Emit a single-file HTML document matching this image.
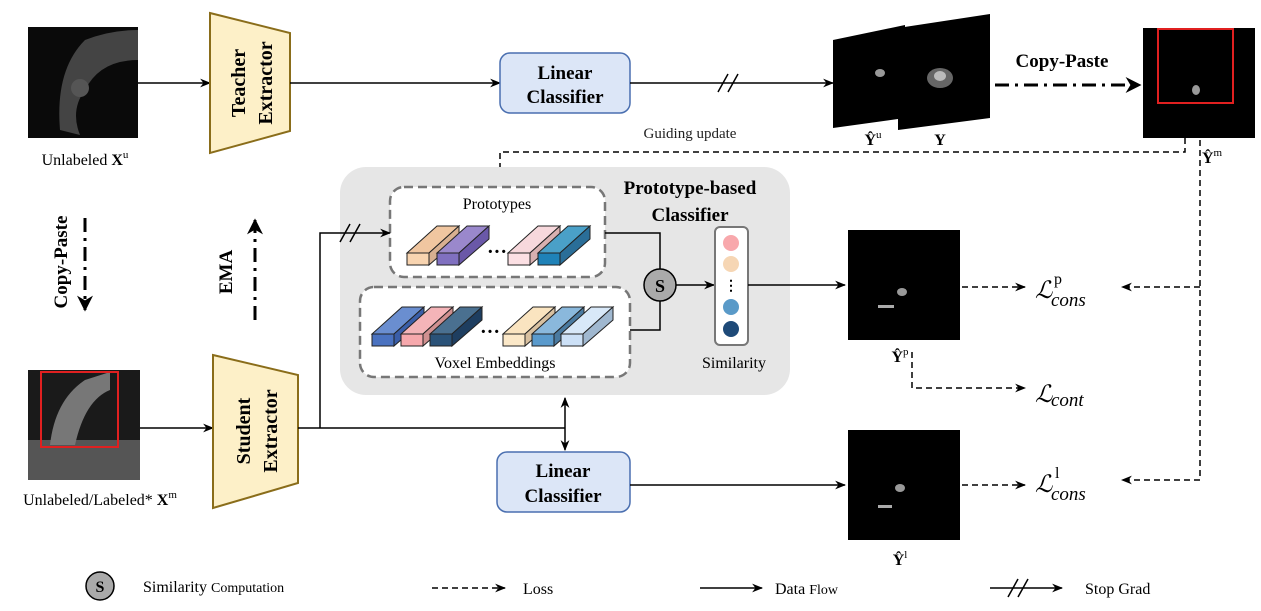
<!DOCTYPE html>
<html><head><style>body{margin:0;background:#fff}svg{display:block}text{font-family:"Liberation Serif",serif}</style></head><body>
<svg width="1261" height="611" viewBox="0 0 1261 611" xmlns="http://www.w3.org/2000/svg">
<defs>
<marker id="a" viewBox="0 0 10 10" refX="9" refY="5" markerWidth="11" markerHeight="11" orient="auto" markerUnits="userSpaceOnUse"><path d="M0,1 L10,5 L0,9 L3,5z" fill="#000"/></marker>
<marker id="b" viewBox="0 0 10 10" refX="9" refY="5" markerWidth="16" markerHeight="16" orient="auto" markerUnits="userSpaceOnUse"><path d="M0,0 L10,5 L0,10 L3,5z" fill="#000"/></marker>
<marker id="d" viewBox="0 0 10 10" refX="5" refY="5" markerWidth="8" markerHeight="8" orient="auto" markerUnits="userSpaceOnUse"><path d="M5,0 L10,5 L5,10 L0,5z" fill="#000"/></marker>
</defs>
<rect x="28" y="27" width="110" height="111" fill="#0a0a0a"/>
<path d="M60,130 Q55,70 85,40 Q110,30 138,30 L138,60 Q100,60 85,90 Q70,110 80,135z" fill="#444"/>
<circle cx="80" cy="88" r="9" fill="#555"/>
<text x="85" y="165" font-size="16" text-anchor="middle">Unlabeled <tspan font-weight="bold">X</tspan><tspan font-size="11" dy="-7">u</tspan></text>
<line x1="138" y1="83" x2="210" y2="83" stroke="#000" stroke-width="1.5" marker-end="url(#a)"/>
<polygon points="210,13 290,33 290,131 210,153" fill="#fdf0c8" stroke="#8a6d1a" stroke-width="2"/>
<text transform="translate(245,83) rotate(-90)" font-size="20" font-weight="bold" text-anchor="middle">Teacher</text>
<text transform="translate(272,83) rotate(-90)" font-size="20" font-weight="bold" text-anchor="middle">Extractor</text>
<line x1="290" y1="83" x2="500" y2="83" stroke="#000" stroke-width="1.5" marker-end="url(#a)"/>
<rect x="500" y="53" width="130" height="60" rx="10" fill="#dce6f7" stroke="#4a6fb0" stroke-width="1.5"/>
<text x="565" y="79" font-size="19" font-weight="bold" text-anchor="middle">Linear</text>
<text x="565" y="103" font-size="19" font-weight="bold" text-anchor="middle">Classifier</text>
<line x1="630" y1="83" x2="833" y2="83" stroke="#000" stroke-width="1.5" marker-end="url(#a)"/>
<line x1="718" y1="92" x2="728" y2="74" stroke="#000" stroke-width="1.5"/><line x1="728" y1="92" x2="738" y2="74" stroke="#000" stroke-width="1.5"/>
<polygon points="833,40 905,25 905,118 833,128" fill="#000"/>
<ellipse cx="880" cy="73" rx="5" ry="4" fill="#999"/>
<polygon points="898,28 990,14 990,118 898,130" fill="#000"/>
<ellipse cx="940" cy="78" rx="13" ry="10" fill="#666"/><ellipse cx="940" cy="76" rx="6" ry="5" fill="#bbb"/>
<text x="873" y="145" font-size="16" font-weight="bold" text-anchor="middle">Ŷ<tspan font-size="11" dy="-7" font-weight="normal">u</tspan></text>
<text x="940" y="145" font-size="16" font-weight="bold" text-anchor="middle">Y</text>
<text x="1062" y="67" font-size="19" font-weight="bold" text-anchor="middle">Copy-Paste</text>
<line x1="995" y1="85" x2="1140" y2="85" stroke="#000" stroke-width="3" stroke-dasharray="14,6,3,6" marker-end="url(#b)"/>
<rect x="1143" y="28" width="112" height="110" fill="#000"/>
<rect x="1158" y="29" width="75" height="74" fill="none" stroke="#e02020" stroke-width="2"/>
<ellipse cx="1196" cy="90" rx="4" ry="5" fill="#999"/>
<text x="1212" y="163" font-size="16" font-weight="bold" text-anchor="middle">Ŷ<tspan font-size="11" dy="-7" font-weight="normal">m</tspan></text>
<text x="690" y="138" font-size="15" text-anchor="middle" fill="#222">Guiding update</text>
<polyline points="1185,138 1185,152 500,152 500,185" fill="none" stroke="#000" stroke-width="1.5" stroke-dasharray="6,4" marker-end="url(#d)"/>
<line x1="1200" y1="140" x2="1200" y2="480" stroke="#000" stroke-width="1.5" stroke-dasharray="6,4"/>
<line x1="1200" y1="287" x2="1122" y2="287" stroke="#000" stroke-width="1.5" stroke-dasharray="6,4" marker-end="url(#a)"/>
<line x1="1200" y1="480" x2="1122" y2="480" stroke="#000" stroke-width="1.5" stroke-dasharray="6,4" marker-end="url(#a)"/>
<rect x="340" y="167" width="450" height="228" rx="26" fill="#e6e6e6"/>
<text x="690" y="194" font-size="19" font-weight="bold" text-anchor="middle">Prototype-based</text>
<text x="690" y="221" font-size="19" font-weight="bold" text-anchor="middle">Classifier</text>
<rect x="390" y="187" width="215" height="90" rx="14" fill="#fff" stroke="#777" stroke-width="2.5" stroke-dasharray="9,5"/>
<text x="497" y="209" font-size="16" text-anchor="middle">Prototypes</text>
<rect x="360" y="287" width="270" height="90" rx="14" fill="#fff" stroke="#777" stroke-width="2.5" stroke-dasharray="9,5"/>
<text x="495" y="368" font-size="16" text-anchor="middle">Voxel Embeddings</text>
<g stroke="#222" stroke-width="1">
<g><polygon points="407,253 437,226 459,226 429,253" fill="#f0c6a0"/><polygon points="429,253 459,226 459,239 429,265" fill="#d8b090"/><rect x="407" y="253" width="22" height="12" fill="#f8d4b0"/></g>
<g><polygon points="437,253 467,226 489,226 459,253" fill="#9a88cc"/><polygon points="459,253 489,226 489,239 459,265" fill="#6a58a8"/><rect x="437" y="253" width="22" height="12" fill="#8070c0"/></g>
<g><polygon points="508,253 538,226 560,226 530,253" fill="#f7d8dc"/><polygon points="530,253 560,226 560,239 530,265" fill="#d8b0b0"/><rect x="508" y="253" width="22" height="12" fill="#fce0e4"/></g>
<g><polygon points="538,253 568,226 590,226 560,253" fill="#4aa0c8"/><polygon points="560,253 590,226 590,239 560,265" fill="#2a6e98"/><rect x="538" y="253" width="22" height="12" fill="#1f82b8"/></g>
<g><polygon points="372,334 402,307 424,307 394,334" fill="#6a8ed0"/><polygon points="394,334 424,307 424,320 394,346" fill="#3a5ea8"/><rect x="372" y="334" width="22" height="12" fill="#4a72c0"/></g>
<g><polygon points="401,334 431,307 453,307 423,334" fill="#f4b4b8"/><polygon points="423,334 453,307 453,320 423,346" fill="#d09090"/><rect x="401" y="334" width="22" height="12" fill="#f6a8ac"/></g>
<g><polygon points="430,334 460,307 482,307 452,334" fill="#4a7090"/><polygon points="452,334 482,307 482,320 452,346" fill="#1e3e60"/><rect x="430" y="334" width="22" height="12" fill="#2a5278"/></g>
<g><polygon points="503,334 533,307 555,307 525,334" fill="#fae4c0"/><polygon points="525,334 555,307 555,320 525,346" fill="#d8c0a0"/><rect x="503" y="334" width="22" height="12" fill="#fbe8c8"/></g>
<g><polygon points="532,334 562,307 584,307 554,334" fill="#8ab8dc"/><polygon points="554,334 584,307 584,320 554,346" fill="#4a7aa0"/><rect x="532" y="334" width="22" height="12" fill="#5a9acc"/></g>
<g><polygon points="561,334 591,307 613,307 583,334" fill="#d8e8f8"/><polygon points="583,334 613,307 613,320 583,346" fill="#a0b8d0"/><rect x="561" y="334" width="22" height="12" fill="#cce0f6"/></g>
</g>
<text x="497" y="258" font-size="20" font-weight="bold" text-anchor="middle">···</text>
<text x="490" y="338" font-size="20" font-weight="bold" text-anchor="middle">···</text>
<polyline points="605,233 660,233 660,269" fill="none" stroke="#000" stroke-width="1.5"/>
<polyline points="630,330 660,330 660,301" fill="none" stroke="#000" stroke-width="1.5"/>
<circle cx="660" cy="285" r="16" fill="#aaa" stroke="#000" stroke-width="1.5"/>
<text x="660" y="292" font-size="18" font-weight="bold" text-anchor="middle">S</text>
<line x1="676" y1="285" x2="714" y2="285" stroke="#000" stroke-width="1.5" marker-end="url(#a)"/>
<rect x="715" y="227" width="33" height="118" rx="5" fill="#fff" stroke="#777" stroke-width="2"/>
<circle cx="731" cy="243" r="8" fill="#f8a8ac"/><circle cx="731" cy="264" r="8" fill="#f6d6b4"/>
<text x="731" y="290" font-size="14" font-weight="bold" text-anchor="middle">⋮</text>
<circle cx="731" cy="307" r="8" fill="#5a9ac8"/><circle cx="731" cy="329" r="8" fill="#1e4a78"/>
<text x="734" y="368" font-size="16" text-anchor="middle">Similarity</text>
<line x1="748" y1="285" x2="845" y2="285" stroke="#000" stroke-width="1.5" marker-end="url(#a)"/>
<rect x="848" y="230" width="112" height="110" fill="#000"/>
<ellipse cx="902" cy="292" rx="5" ry="4" fill="#999"/><rect x="878" y="305" width="16" height="3" fill="#aaa"/>
<text x="900" y="362" font-size="16" font-weight="bold" text-anchor="middle">Ŷ<tspan font-size="11" dy="-7" font-weight="normal">p</tspan></text>
<line x1="962" y1="287" x2="1025" y2="287" stroke="#000" stroke-width="1.5" stroke-dasharray="6,4" marker-end="url(#a)"/>
<polyline points="912,352 912,388 1025,388" fill="none" stroke="#000" stroke-width="1.5" stroke-dasharray="6,4" marker-end="url(#a)"/>
<g font-family="'DejaVu Serif',serif">
<text x="1035" y="298" font-size="24" font-style="italic">ℒ</text>
<text x="1051" y="306" font-size="19" font-style="italic">cons</text>
<text x="1054" y="284" font-size="16">p</text>
<text x="1035" y="402" font-size="24" font-style="italic">ℒ</text>
<text x="1051" y="406" font-size="19" font-style="italic">cont</text>
<text x="1035" y="492" font-size="24" font-style="italic">ℒ</text>
<text x="1051" y="500" font-size="19" font-style="italic">cons</text>
<text x="1055" y="478" font-size="16">l</text>
</g>
<rect x="848" y="430" width="112" height="110" fill="#000"/>
<ellipse cx="900" cy="488" rx="5" ry="4" fill="#999"/><rect x="878" y="505" width="14" height="3" fill="#aaa"/>
<text x="900" y="565" font-size="16" font-weight="bold" text-anchor="middle">Ŷ<tspan font-size="11" dy="-7" font-weight="normal">l</tspan></text>
<line x1="962" y1="485" x2="1025" y2="485" stroke="#000" stroke-width="1.5" stroke-dasharray="6,4" marker-end="url(#a)"/>
<rect x="28" y="370" width="112" height="110" fill="#1a1a1a"/>
<rect x="28" y="440" width="112" height="40" fill="#555"/>
<path d="M50,445 Q55,400 85,380 L110,372 L110,390 Q85,400 75,445z" fill="#777"/>
<rect x="41" y="372" width="77" height="75" fill="none" stroke="#e02020" stroke-width="2"/>
<text x="100" y="505" font-size="16" text-anchor="middle">Unlabeled/Labeled* <tspan font-weight="bold">X</tspan><tspan font-size="11" dy="-7">m</tspan></text>
<line x1="140" y1="428" x2="213" y2="428" stroke="#000" stroke-width="1.5" marker-end="url(#a)"/>
<polygon points="213,355 298,375 298,483 213,508" fill="#fdf0c8" stroke="#8a6d1a" stroke-width="2"/>
<text transform="translate(250,431) rotate(-90)" font-size="20" font-weight="bold" text-anchor="middle">Student</text>
<text transform="translate(277,431) rotate(-90)" font-size="20" font-weight="bold" text-anchor="middle">Extractor</text>
<line x1="298" y1="428" x2="565" y2="428" stroke="#000" stroke-width="1.5"/>
<polyline points="320,428 320,233 390,233" fill="none" stroke="#000" stroke-width="1.5" marker-end="url(#a)"/>
<line x1="340" y1="242" x2="350" y2="224" stroke="#000" stroke-width="1.5"/><line x1="350" y1="242" x2="360" y2="224" stroke="#000" stroke-width="1.5"/>
<line x1="565" y1="420" x2="565" y2="398" stroke="#000" stroke-width="1.5" marker-end="url(#a)"/>
<line x1="565" y1="420" x2="565" y2="450" stroke="#000" stroke-width="1.5" marker-end="url(#a)"/>
<rect x="497" y="452" width="133" height="60" rx="10" fill="#dce6f7" stroke="#4a6fb0" stroke-width="1.5"/>
<text x="563" y="477" font-size="19" font-weight="bold" text-anchor="middle">Linear</text>
<text x="563" y="502" font-size="19" font-weight="bold" text-anchor="middle">Classifier</text>
<line x1="630" y1="485" x2="845" y2="485" stroke="#000" stroke-width="1.5" marker-end="url(#a)"/>
<text transform="translate(67,262) rotate(-90)" font-size="19" font-weight="bold" text-anchor="middle">Copy-Paste</text>
<line x1="85" y1="218" x2="85" y2="310" stroke="#000" stroke-width="3" stroke-dasharray="14,6,3,6" marker-end="url(#b)"/>
<text transform="translate(232,272) rotate(-90)" font-size="19" font-weight="bold" text-anchor="middle">EMA</text>
<line x1="255" y1="320" x2="255" y2="220" stroke="#000" stroke-width="3" stroke-dasharray="14,6,3,6" marker-end="url(#b)"/>
<circle cx="100" cy="586" r="14" fill="#aaa" stroke="#000" stroke-width="1.5"/>
<text x="100" y="592" font-size="16" font-weight="bold" text-anchor="middle">S</text>
<text x="143" y="592" font-size="16">Similarity <tspan font-size="14">Computation</tspan></text>
<line x1="432" y1="588" x2="505" y2="588" stroke="#000" stroke-width="1.5" stroke-dasharray="6,4" marker-end="url(#a)"/>
<text x="523" y="594" font-size="16">Loss</text>
<line x1="700" y1="588" x2="762" y2="588" stroke="#000" stroke-width="1.5" marker-end="url(#a)"/>
<text x="775" y="594" font-size="16">Data <tspan font-size="14">Flow</tspan></text>
<line x1="990" y1="588" x2="1062" y2="588" stroke="#000" stroke-width="1.5" marker-end="url(#a)"/>
<line x1="1008" y1="597" x2="1018" y2="579" stroke="#000" stroke-width="1.5"/><line x1="1018" y1="597" x2="1028" y2="579" stroke="#000" stroke-width="1.5"/>
<text x="1085" y="594" font-size="16">Stop Grad</text>
</svg>
</body></html>
